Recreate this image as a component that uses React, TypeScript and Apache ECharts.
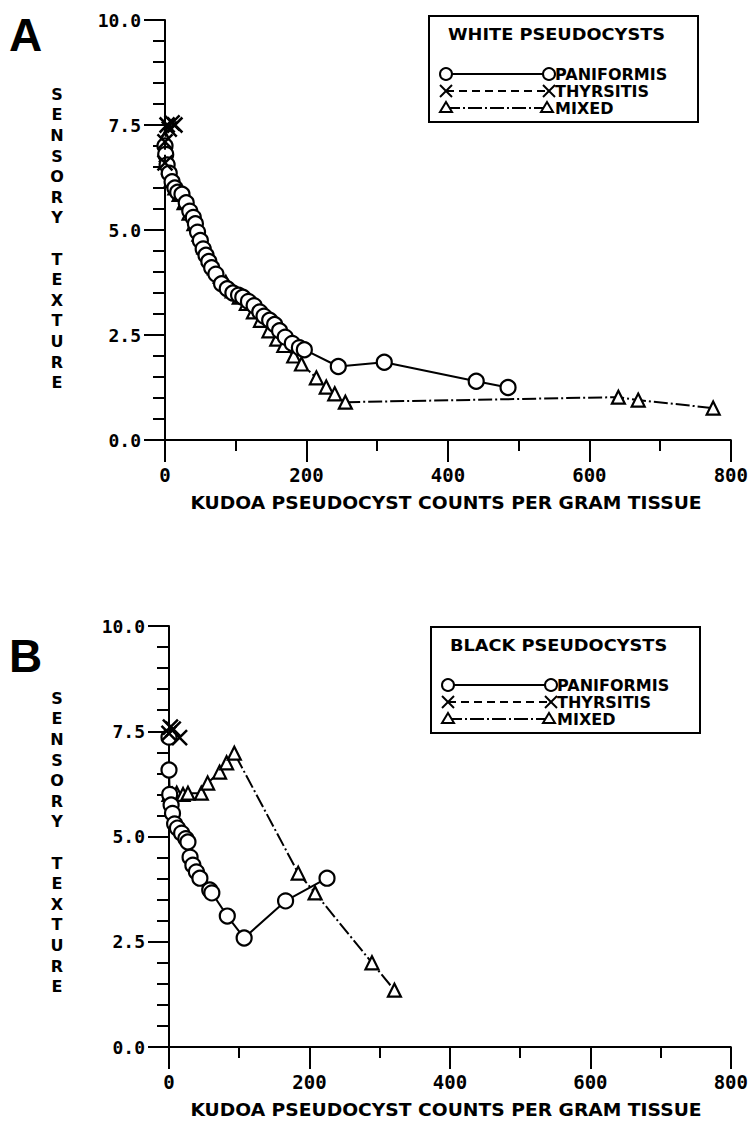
import React, { useEffect, useRef } from "react";
import * as echarts from "echarts";

// ---------- Data ----------
// Panel A – white pseudocysts
const paniA_x = [0, 1, 3, 6, 10, 14, 18, 24, 30, 35, 40, 43, 46, 50, 54, 58, 62, 66, 72, 80, 88, 96, 104, 110, 118, 126, 134, 140, 148, 155, 162, 170, 180, 190, 197, 245, 310, 440, 485];
const paniA_y = [7.0, 6.8, 6.55, 6.35, 6.15, 6.0, 5.9, 5.85, 5.65, 5.45, 5.3, 5.15, 4.95, 4.75, 4.55, 4.4, 4.25, 4.1, 3.95, 3.72, 3.6, 3.5, 3.45, 3.4, 3.3, 3.2, 3.05, 2.95, 2.85, 2.75, 2.6, 2.45, 2.3, 2.2, 2.15, 1.75, 1.85, 1.4, 1.25];
const thyrA_x = [0, 0, 3, 6, 10, 14];
const thyrA_y = [6.6, 7.1, 7.5, 7.4, 7.55, 7.5];
const mixA_x = [0, 2, 5, 9, 14, 20, 27, 34, 41, 48, 55, 62, 70, 78, 86, 95, 105, 115, 125, 135, 147, 158, 168, 182, 193, 214, 228, 240, 255, 641, 669, 775];
const mixA_y = [7.2, 6.8, 6.5, 6.2, 6.0, 5.85, 5.65, 5.4, 5.15, 4.9, 4.6, 4.35, 4.1, 3.9, 3.75, 3.55, 3.4, 3.25, 3.05, 2.85, 2.6, 2.4, 2.25, 2.0, 1.81, 1.48, 1.26, 1.1, 0.9, 1.02, 0.95, 0.76];

// Panel B – black pseudocysts
const paniB_x = [0, 0, 1, 3, 5, 8, 12, 18, 24, 27, 30, 34, 39, 44, 58, 61, 83, 107, 166, 225];
const paniB_y = [7.36, 6.58, 6.0, 5.75, 5.55, 5.3, 5.2, 5.08, 4.95, 4.87, 4.51, 4.32, 4.16, 4.01, 3.73, 3.66, 3.11, 2.59, 3.47, 4.01];
const thyrB_x = [0, 2, 6, 15];
const thyrB_y = [7.45, 7.6, 7.55, 7.35];
const mixB_x = [0, 5, 11, 20, 27, 46, 55, 72, 82, 93, 184, 208, 289, 321];
const mixB_y = [6.0, 6.0, 6.03, 6.0, 6.03, 6.03, 6.27, 6.53, 6.75, 6.98, 4.13, 3.66, 2.0, 1.35];

// Axes / labels
const xMin = 0;
const xMax = 800;
const xStep = 200;
const yMin = 0;
const yMax = 10;
const yStep = 2.5;
const seriesNames = ["PANIFORMIS", "THYRSITIS", "MIXED"];
const legendTitles = ["WHITE PSEUDOCYSTS", "BLACK PSEUDOCYSTS"];
const panelLetters = ["A", "B"];
const xTitle = "KUDOA PSEUDOCYST COUNTS PER GRAM TISSUE";
const yTitleWords = ["SENSORY", "TEXTURE"];

const WORD_FONT = '"DejaVu Sans"';
const NUM_FONT = '"DejaVu Sans Mono"';

const pairs = (xs: number[], ys: number[]) => xs.map((x, i) => [x, ys[i]]);

export default function App() {
  const ref = useRef<HTMLDivElement>(null);

  useEffect(() => {
    if (!ref.current) return;
    const chart = echarts.init(ref.current, null, { renderer: "svg" });

    const grids = [
      { left: 165, right: 15, top: 20, height: 420 },
      { left: 169, right: 14, top: 626, height: 421 },
    ];

    const xAxisCfg = (gi: number) => ({
      type: "value",
      gridIndex: gi,
      min: xMin,
      max: xMax,
      interval: xStep,
      splitLine: { show: false },
      axisLine: { show: true, onZero: false, lineStyle: { color: "#000", width: 2 } },
      axisTick: { show: true, inside: false, length: 22, lineStyle: { color: "#000", width: 2 } },
      minorTick: { show: true, splitNumber: 2, length: 11, lineStyle: { color: "#000", width: 2 } },
      axisLabel: {
        margin: 25,
        color: "#000",
        fontFamily: NUM_FONT,
        fontWeight: "bold",
        fontSize: 19,
      },
    });

    const yAxisCfg = (gi: number) => ({
      type: "value",
      gridIndex: gi,
      min: yMin,
      max: yMax,
      interval: yStep,
      splitLine: { show: false },
      axisLine: { show: true, onZero: false, lineStyle: { color: "#000", width: 2 } },
      axisTick: { show: true, inside: false, length: 21, lineStyle: { color: "#000", width: 2 } },
      minorTick: { show: true, splitNumber: 5, length: 12, lineStyle: { color: "#000", width: 2 } },
      axisLabel: {
        margin: 24,
        color: "#000",
        fontFamily: NUM_FONT,
        fontWeight: "bold",
        fontSize: 18,
        formatter: (v: number) => v.toFixed(1),
      },
    });

    const XSYM = "path://M0,0L10,10M10,0L0,10";
    const mkSeries = (name: string, gi: number, data: number[][], kind: number) => {
      const base: any = {
        name,
        type: "line",
        xAxisIndex: gi,
        yAxisIndex: gi,
        data,
        showSymbol: true,
        silent: true,
      };
      if (kind === 0) {
        base.symbol = "circle";
        base.symbolSize = 15;
        base.itemStyle = { color: "#fff", borderColor: "#000", borderWidth: 2.2 };
        base.lineStyle = { color: "#000", width: 2, type: "solid" };
        base.z = 3;
      } else if (kind === 1) {
        base.symbol = XSYM;
        base.symbolSize = 15;
        base.itemStyle = { color: "none", borderColor: "#000", borderWidth: 2.5 };
        base.lineStyle = { color: "#000", width: 2, type: [8, 5] };
        base.z = 4;
      } else {
        base.symbol = "triangle";
        base.symbolSize = 13;
        base.itemStyle = { color: "#fff", borderColor: "#000", borderWidth: 2.2 };
        base.lineStyle = { color: "#000", width: 2, type: [14, 3, 2, 3] };
        base.z = 2;
      }
      return base;
    };

    const series = [
      mkSeries(seriesNames[2], 0, pairs(mixA_x, mixA_y), 2),
      mkSeries(seriesNames[0], 0, pairs(paniA_x, paniA_y), 0),
      mkSeries(seriesNames[1], 0, pairs(thyrA_x, thyrA_y), 1),
      mkSeries(seriesNames[2], 1, pairs(mixB_x, mixB_y), 2),
      mkSeries(seriesNames[0], 1, pairs(paniB_x, paniB_y), 0),
      mkSeries(seriesNames[1], 1, pairs(thyrB_x, thyrB_y), 1),
    ];

    const legendGroup = (left: number, top: number, title: string) => {
      const rowY = [58, 75, 92];
      const xl = 17;
      const xr = 120;
      const children: any[] = [
        { type: "rect", shape: { x: 0, y: 0, width: 269, height: 106 }, style: { fill: "#fff", stroke: "#000", lineWidth: 2 } },
        {
          type: "text",
          x: 19,
          y: 18,
          scaleX: 1.11,
          style: { text: title, font: `bold 16px ${WORD_FONT}`, fill: "#000", verticalAlign: "middle", align: "left" },
        },
        // row 1 paniformis
        { type: "line", shape: { x1: xl, y1: rowY[0], x2: xr, y2: rowY[0] }, style: { stroke: "#000", lineWidth: 2 } },
        { type: "circle", shape: { cx: xl, cy: rowY[0], r: 6 }, style: { fill: "#fff", stroke: "#000", lineWidth: 2 } },
        { type: "circle", shape: { cx: xr, cy: rowY[0], r: 6 }, style: { fill: "#fff", stroke: "#000", lineWidth: 2 } },
        // row 2 thyrsitis
        { type: "line", shape: { x1: xl, y1: rowY[1], x2: xr, y2: rowY[1] }, style: { stroke: "#000", lineWidth: 2, lineDash: [8, 5] } },
        { type: "line", shape: { x1: xl - 6, y1: rowY[1] - 6, x2: xl + 6, y2: rowY[1] + 6 }, style: { stroke: "#000", lineWidth: 2 } },
        { type: "line", shape: { x1: xl - 6, y1: rowY[1] + 6, x2: xl + 6, y2: rowY[1] - 6 }, style: { stroke: "#000", lineWidth: 2 } },
        { type: "line", shape: { x1: xr - 6, y1: rowY[1] - 6, x2: xr + 6, y2: rowY[1] + 6 }, style: { stroke: "#000", lineWidth: 2 } },
        { type: "line", shape: { x1: xr - 6, y1: rowY[1] + 6, x2: xr + 6, y2: rowY[1] - 6 }, style: { stroke: "#000", lineWidth: 2 } },
        // row 3 mixed
        { type: "line", shape: { x1: xl, y1: rowY[2], x2: xr, y2: rowY[2] }, style: { stroke: "#000", lineWidth: 2, lineDash: [14, 3, 2, 3] } },
        { type: "polygon", shape: { points: [[xl, rowY[2] - 6], [xl + 6, rowY[2] + 4], [xl - 6, rowY[2] + 4]] }, style: { fill: "#fff", stroke: "#000", lineWidth: 2 } },
        { type: "polygon", shape: { points: [[xr - 2, rowY[2] - 6], [xr + 4, rowY[2] + 4], [xr - 8, rowY[2] + 4]] }, style: { fill: "#fff", stroke: "#000", lineWidth: 2 } },
      ];
      seriesNames.forEach((n, i) => {
        children.push({
          type: "text",
          x: xr + 6,
          y: rowY[i],
          style: { text: n, font: `bold 16px ${WORD_FONT}`, fill: "#000", verticalAlign: "middle", align: "left" },
        });
      });
      return { type: "group", left, top, children };
    };

    const yTitleText = yTitleWords[0].split("").join("\n") + "\n\n" + yTitleWords[1].split("").join("\n");

    const graphic: any[] = [
      legendGroup(428, 15, legendTitles[0]),
      legendGroup(430, 626, legendTitles[1]),
      { type: "text", x: 9, y: 12, style: { text: panelLetters[0], font: `bold 46px "Liberation Sans"`, fill: "#000" } },
      { type: "text", x: 9, y: 633, style: { text: panelLetters[1], font: `bold 46px "Liberation Sans"`, fill: "#000" } },
      {
        type: "text",
        x: 57,
        y: 84,
        style: { text: yTitleText, font: `bold 16px ${WORD_FONT}`, lineHeight: 20.6, fill: "#000", align: "center" },
      },
      {
        type: "text",
        x: 57,
        y: 688,
        style: { text: yTitleText, font: `bold 16px ${WORD_FONT}`, lineHeight: 20.6, fill: "#000", align: "center" },
      },
      {
        type: "text",
        x: 446,
        y: 503,
        scaleX: 1.1,
        style: { text: xTitle, font: `bold 17px ${WORD_FONT}`, fill: "#000", align: "center", verticalAlign: "middle" },
      },
      {
        type: "text",
        x: 446,
        y: 1110,
        scaleX: 1.1,
        style: { text: xTitle, font: `bold 17px ${WORD_FONT}`, fill: "#000", align: "center", verticalAlign: "middle" },
      },
    ];

    chart.setOption({
      animation: false,
      backgroundColor: "#fff",
      grid: grids,
      xAxis: [xAxisCfg(0), xAxisCfg(1)],
      yAxis: [yAxisCfg(0), yAxisCfg(1)],
      series,
      graphic,
    });

    return () => chart.dispose();
  }, []);

  return (
    <div
      ref={ref}
      style={{ position: "absolute", left: 0, top: 0, width: 751, height: 1127, background: "#fff" }}
    />
  );
}
